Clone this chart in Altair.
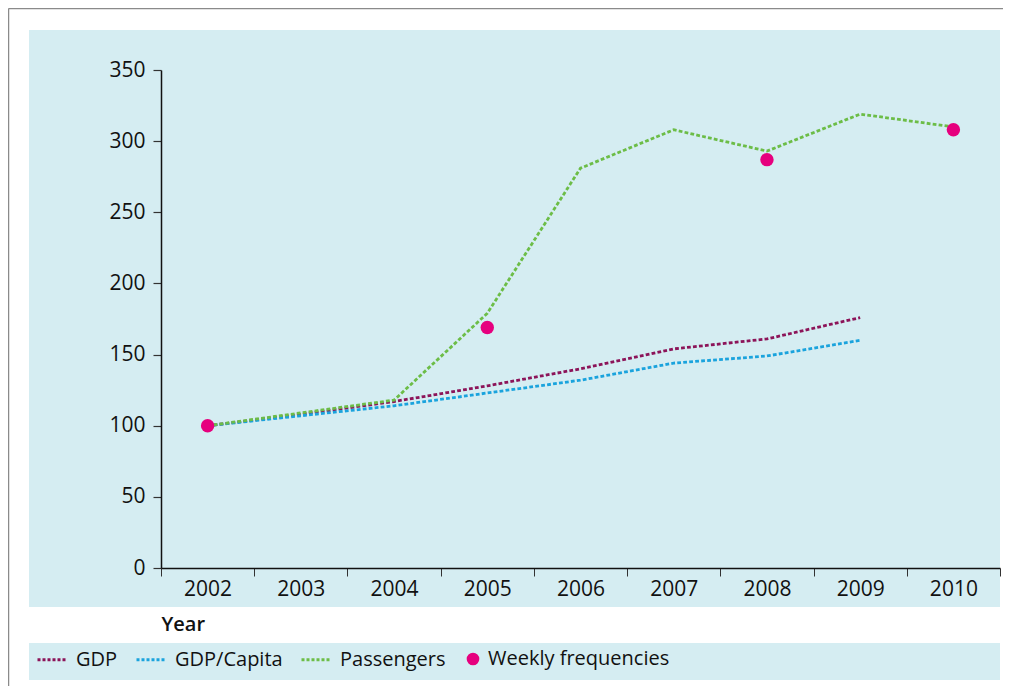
import altair as alt
import pandas as pd

years = [2002, 2003, 2004, 2005, 2006, 2007, 2008, 2009, 2010]
gdp = [100, 108, 117, 128, 140, 154, 161, 176, None]
gdp_capita = [100, 107, 114, 123, 132, 144, 149, 160, None]
passengers = [100, 109, 118, 179, 281, 308, 293, 319, 310]
freq_years = [2002, 2005, 2008, 2010]
freq_values = [100, 169, 287, 308]

series_names = ["GDP", "GDP/Capita", "Passengers"]
series_colors = ["#8C1459", "#1AA3DD", "#6CBD47"]
freq_name = "Weekly frequencies"
freq_color = "#E6007E"
panel_color = "#D5EDF2"
FONT = "Open Sans"

rows = []
for name, vals in zip(series_names, [gdp, gdp_capita, passengers]):
    for y, v in zip(years, vals):
        if v is not None:
            rows.append({"year": str(y), "value": v, "series": name})
lines_df = pd.DataFrame(rows)
freq_df = pd.DataFrame({"year": [str(y) for y in freq_years], "value": freq_values, "series": freq_name})

W, H = 839, 498

x_enc = alt.X(
    "year:O",
    bandPosition=0.5,
    scale=alt.Scale(type="band", domain=[str(y) for y in years], paddingInner=0, paddingOuter=0),
    axis=alt.Axis(
        zindex=1, tickBand="extent", labelAngle=0, tickSize=8, labelPadding=2,
        labelFontSize=21, labelFont=FONT, labelColor="#111",
        domainColor="#111", domainWidth=1.5, tickColor="#333", tickWidth=1,
        title="Year", titleFont=FONT, titleFontSize=20, titleFontWeight=600,
        titleColor="#111", titleAnchor="start", titleAlign="left",
        titleX=0, titleY=56, titleBaseline="middle", titleAngle=0,
    ),
)
y_enc = alt.Y(
    "value:Q",
    scale=alt.Scale(domain=[0, 350], nice=False, zero=True),
    axis=alt.Axis(
        zindex=1, values=[0, 50, 100, 150, 200, 250, 300, 350], grid=False, title=None,
        tickSize=8, labelPadding=8, labelFontSize=21, labelFont=FONT, labelColor="#111",
        domainColor="#111", domainWidth=1.5, tickColor="#333", tickWidth=1.2,
    ),
)

one = alt.Data(values=[{"k": 1}])

panel = alt.Chart(one).mark_rect(color=panel_color).encode(
    x=alt.value(-132), x2=alt.value(839), y=alt.value(-40), y2=alt.value(537)
)
legend_band = alt.Chart(one).mark_rect(color=panel_color).encode(
    x=alt.value(-132), x2=alt.value(839), y=alt.value(573), y2=alt.value(610)
)
border_top = alt.Chart(one).mark_rule(color="#8a8a8a", strokeWidth=1.5).encode(
    x=alt.value(-152.5), x2=alt.value(845), y=alt.value(-61.5)
)
border_left = alt.Chart(one).mark_rule(color="#8a8a8a", strokeWidth=1.5).encode(
    x=alt.value(-152.5), y=alt.value(-61.5), y2=alt.value(700)
)

lines = alt.Chart(lines_df).mark_line(strokeWidth=2.8, strokeDash=[3.8, 2.2]).encode(
    x=x_enc,
    y=y_enc,
    color=alt.Color(
        "series:N",
        scale=alt.Scale(domain=series_names, range=series_colors),
        legend=alt.Legend(
            orient="none", legendX=-125, legendY=573, direction="horizontal",
            title=None, symbolType="stroke", symbolSize=900, symbolStrokeWidth=2.8,
            symbolDash=[3, 2], labelFont=FONT, labelFontSize=20, labelColor="#111",
            labelOffset=7, columnPadding=12, symbolOffset=0, labelLimit=400,
        ),
    ),
)

dots = alt.Chart(freq_df).mark_point(filled=True, size=180, opacity=1).encode(
    x=x_enc,
    y=y_enc,
    fill=alt.Fill(
        "series:N",
        scale=alt.Scale(domain=[freq_name], range=[freq_color]),
        legend=alt.Legend(
            orient="none", legendX=302, legendY=579, direction="horizontal",
            title=None, symbolType="circle", symbolSize=160, symbolStrokeWidth=0,
            labelFont=FONT, labelFontSize=20, labelColor="#111", labelOffset=5,
            labelLimit=400,
        ),
    ),
)

chart = alt.layer(panel, legend_band, border_top, border_left, lines, dots).properties(
    width=W,
    height=H,
    autosize=alt.AutoSizeParams(type="none"),
    padding={"left": 153, "top": 62, "right": 3, "bottom": 118},
    background="white",
).configure_view(stroke=None)

chart.save("out.html", embed_options={"renderer": "svg", "actions": False})
